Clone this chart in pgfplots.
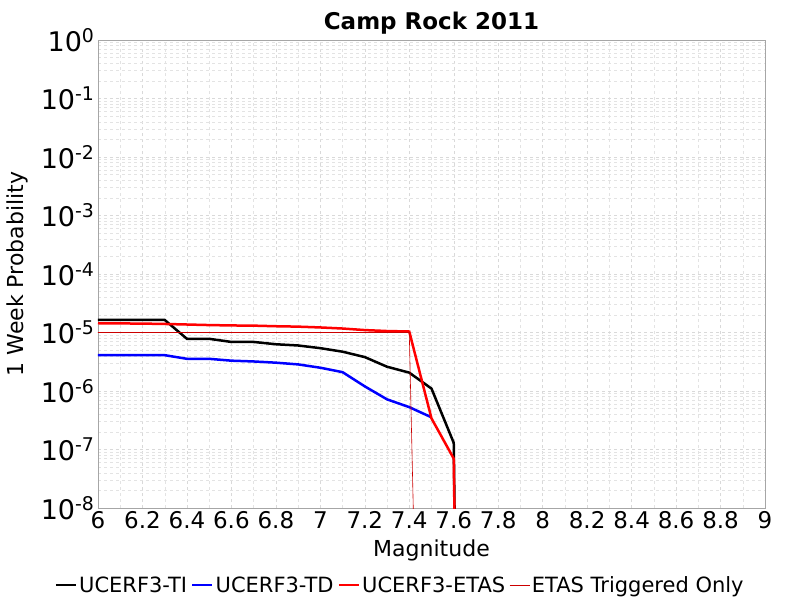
\documentclass[border=0pt]{standalone}
\usepackage{pgfplots}
\pgfplotsset{compat=1.18}
\usepackage{fontspec}
\setmainfont{DejaVu Sans}
\begin{document}
\begin{tikzpicture}
\path[use as bounding box] (-98pt,-92pt) rectangle (702pt,508pt);
\begin{axis}[at={(0,0)},anchor=south west,scale only axis,width=667pt,height=468pt,
 ymode=log, xmin=6,xmax=9, ymin=1e-8,ymax=1,
 xtick={6,6.2,...,9.01},
 xticklabel style={/pgf/number format/fixed,/pgf/number format/precision=1},
 /pgf/number format/assume math mode=true,
 ytick={1e-8,1e-7,1e-6,1e-5,1e-4,1e-3,1e-2,1e-1,1},
 yticklabel={10\textsuperscript{\pgfmathparse{int(round(\tick/ln(10)))}\pgfmathresult}},
 tick label style={font=\fontsize{23}{26}\selectfont},
 yticklabel style={font=\fontsize{27}{30}\selectfont},
 major grid style={dashed,gray!30},
 minor grid style={dashed,gray!22},
 grid=both, minor x tick num=1,
 axis line style={gray!70},
 tick style={draw=none},
 title={\textbf{Camp Rock 2011}},
 title style={font=\fontsize{23}{26}\selectfont,yshift=-4pt},
 xlabel={Magnitude}, ylabel={1 Week Probability},
 xlabel style={yshift=-4pt},
 ylabel style={yshift=6pt},
 label style={font=\fontsize{22}{25}\selectfont},
 legend columns=4,
 legend style={at={(0.453,-0.165)},anchor=center,draw=none,font=\fontsize{21}{24}\selectfont,
   /tikz/every even column/.append style={column sep=2pt}},
 legend image code/.code={\draw[#1] (0pt,0pt) -- (20pt,0pt);},
]
\addplot[black,line width=2.5pt] coordinates {(6,1.64e-5)(6.1,1.64e-5)(6.2,1.64e-5)(6.3,1.64e-5)(6.4,7.8e-6)(6.5,7.8e-6)(6.6,6.9e-6)(6.7,6.9e-6)(6.8,6.3e-6)(6.9,6.0e-6)(7.0,5.4e-6)(7.1,4.7e-6)(7.2,3.8e-6)(7.3,2.6e-6)(7.4,2.06e-6)(7.5,1.1e-6)(7.6,1.3e-7)(7.61,1e-10)};
\addlegendentry{UCERF3-TI}
\addplot[blue,line width=2.5pt] coordinates {(6,4.1e-6)(6.1,4.1e-6)(6.2,4.1e-6)(6.3,4.1e-6)(6.4,3.55e-6)(6.5,3.55e-6)(6.6,3.3e-6)(6.7,3.2e-6)(6.8,3.05e-6)(6.9,2.85e-6)(7.0,2.5e-6)(7.1,2.1e-6)(7.2,1.2e-6)(7.3,7.2e-7)(7.4,5.3e-7)(7.5,3.55e-7)};
\addlegendentry{UCERF3-TD}
\addplot[red,line width=2.5pt] coordinates {(6,1.44e-5)(6.1,1.43e-5)(6.2,1.42e-5)(6.3,1.4e-5)(6.4,1.37e-5)(6.5,1.34e-5)(6.6,1.32e-5)(6.7,1.31e-5)(6.8,1.28e-5)(6.9,1.26e-5)(7.0,1.22e-5)(7.1,1.17e-5)(7.2,1.1e-5)(7.3,1.06e-5)(7.4,1.04e-5)(7.5,3.4e-7)(7.6,7e-8)(7.61,1e-10)};
\addlegendentry{UCERF3-ETAS}
\addplot[red!80!black,line width=0.6pt] coordinates {(6,1.0e-5)(6.2,1.0e-5)(6.4,1.0e-5)(6.6,1.0e-5)(6.8,1.0e-5)(7.0,1.0e-5)(7.2,1.0e-5)(7.4,1.0e-5)(7.43,1e-10)};
\addlegendentry{ETAS Triggered Only}
\end{axis}
\end{tikzpicture}
\end{document}
